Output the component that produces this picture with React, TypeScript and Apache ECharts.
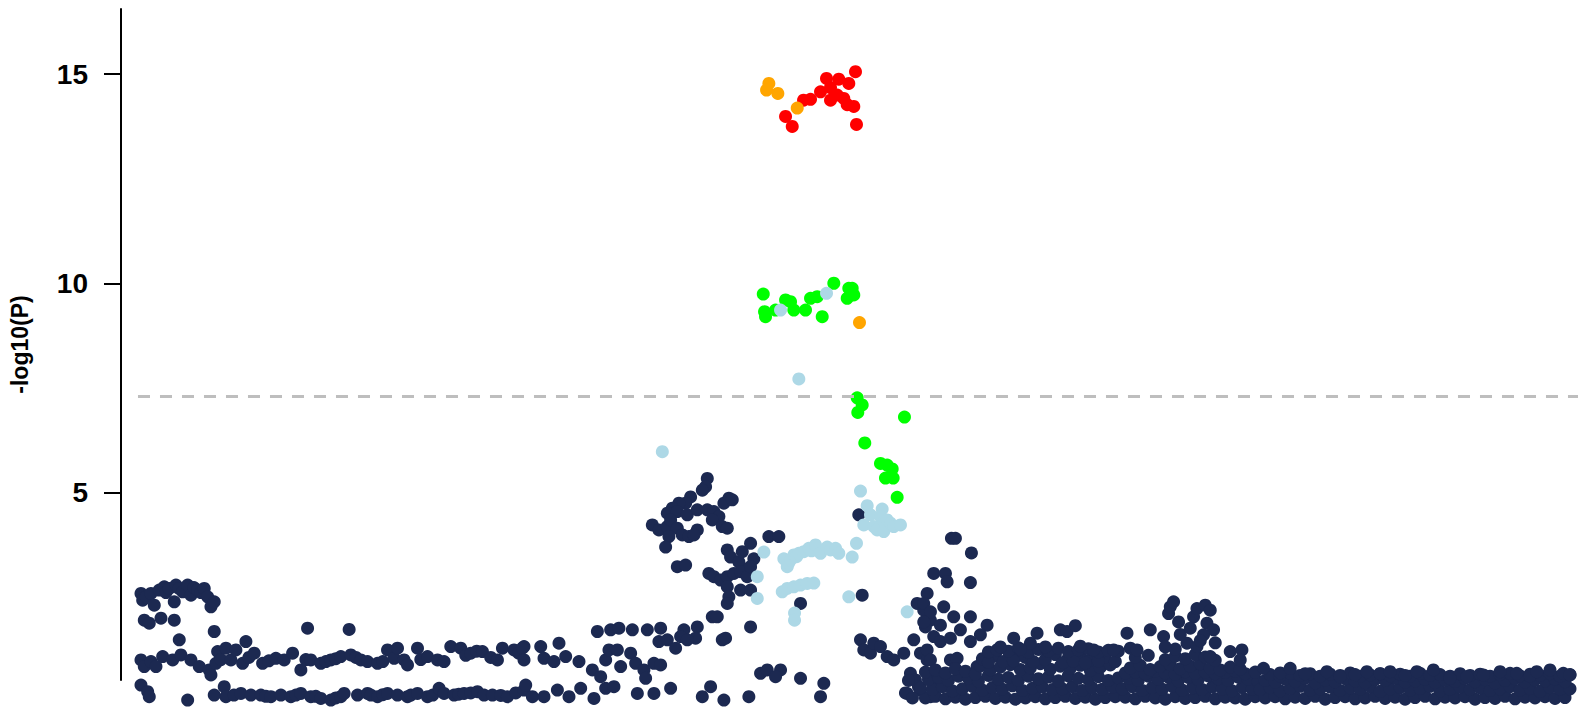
import React, { useEffect, useRef } from "react";
import * as echarts from "echarts";

// Genomic position (kb from region start) and -log10(P)
const yTicks = [5, 10, 15];
const threshold = 7.3;

const navyLeftCluster: number[][] = [
  [20, 2.58], [21.7, 2.42], [25, 2.5], [30, 2.58], [33.3, 2.3], [38.3, 2.66], [43.3, 2.74], [45, 2.6],
  [48.3, 2.7], [53.3, 2.38], [55, 2.78], [58, 2.7], [61.7, 2.62], [66.7, 2.78], [70, 2.54], [73, 2.72],
  [76.7, 2.66], [80, 2.6], [83.3, 2.7], [86.7, 2.5], [90, 2.26], [93.3, 2.38],
  [23.3, 1.94], [28.3, 1.87], [40, 1.99], [53.3, 1.94], [58.3, 1.47], [93.3, 1.67], [186.7, 1.75], [228.3, 1.72],
];

const navyLeftMid: number[][] = [
  [20, 0.99], [23.3, 0.83], [30, 0.95], [35, 0.83], [41.7, 1.07], [51.7, 0.99], [60, 1.11], [70, 0.99],
  [78.3, 0.83], [88.3, 0.75], [90, 0.63], [95, 0.91], [96.7, 1.19], [100, 1.0], [105, 1.27], [110, 0.99],
  [115, 1.23], [121.7, 0.91], [125, 1.43], [128, 1.05], [133.3, 1.15], [141.7, 0.91], [148, 0.97], [155, 1.03],
  [163.3, 0.99], [171.7, 1.15], [180, 0.75], [185, 1.0], [190, 0.99], [200, 0.91], [205, 0.95], [210, 0.99],
  [215, 1.02], [220, 1.07], [230, 1.11], [235, 1.05], [240, 0.99], [246.7, 0.95], [256.7, 0.91], [262, 0.95],
  [266.7, 1.23], [273.3, 1.03], [276.7, 1.27], [283.3, 0.99], [286.7, 0.87], [296.7, 1.27], [300, 1.0],
  [306.7, 1.07], [316.7, 0.99], [323.3, 0.95], [330, 1.31], [340, 1.27], [345, 1.1], [350, 1.15], [356, 1.2],
  [361.7, 1.19], [370, 1.05], [376.7, 0.99], [381.7, 1.27], [393.3, 1.23], [398, 1.15], [403.3, 1.31],
];

const navyLeftBottom: number[][] = [
  [20, 0.39], [26.7, 0.23], [28.3, 0.11], [66.7, 0.03], [93.3, 0.15], [103.3, 0.35], [105, 0.11], [113, 0.15],
  [120, 0.19], [130, 0.15], [140, 0.15], [145, 0.12], [150, 0.11], [160, 0.15], [170, 0.11], [175, 0.15],
  [180, 0.19], [190, 0.11], [195, 0.12], [200, 0.07], [210, 0.03], [215, 0.08], [220, 0.11], [223.3, 0.19],
  [236.7, 0.15], [246.7, 0.19], [250, 0.15], [256.7, 0.11], [262, 0.16], [266.7, 0.19], [276.7, 0.15],
  [286.7, 0.11], [290, 0.15], [296.7, 0.19], [306.7, 0.11], [312, 0.15], [318.3, 0.31], [323.3, 0.19],
  [333.3, 0.15], [338, 0.17], [343.3, 0.19], [350, 0.2], [356.7, 0.23], [363.3, 0.15], [371.7, 0.15],
  [380, 0.14], [386.7, 0.11], [395, 0.2], [403.3, 0.27],
];

const navyCenter: number[][] = [
  [586.7, 5.33], [585, 5.13], [581.7, 5.05], [608.3, 4.86], [603.3, 4.74], [611.7, 4.82], [570, 4.89],
  [565, 4.74], [558.3, 4.74], [551.7, 4.62], [546.7, 4.5], [556.7, 4.54], [566.7, 4.46], [576.7, 4.58],
  [586.7, 4.58], [593.3, 4.54], [598.3, 4.42], [591.7, 4.34], [601.7, 4.18], [606.7, 4.14], [531.7, 4.22],
  [538.3, 4.1], [546.7, 4.18], [550, 4.34], [556.7, 4.14], [561.7, 3.98], [568.3, 3.94], [576.7, 4.1],
  [573.3, 3.98], [548.3, 3.94], [545, 3.69], [556.7, 3.22], [565, 3.26],
  [606.7, 3.62], [610, 3.45], [618.3, 3.33], [621.7, 3.58], [630, 3.78], [633.3, 3.41], [628.3, 3.18],
  [588.3, 3.06], [593.3, 2.98], [600, 2.9], [606.7, 2.98], [613.3, 3.06], [620, 3.1], [626.7, 2.98],
  [630, 3.22], [606.7, 2.74], [608.3, 2.5], [606.7, 2.34], [620, 2.66], [630, 2.66], [648.3, 3.94],
  [658.3, 3.94], [680, 2.34], [738.3, 4.46], [741.7, 2.54],
  [591.7, 2.02], [596.7, 2.02], [630, 1.78], [601.7, 1.47], [605, 1.51],
  [476.7, 1.67], [490, 1.71], [498.3, 1.75], [511.7, 1.71], [526.7, 1.71], [540, 1.75], [563.3, 1.71],
  [576.7, 1.78], [575, 1.51], [538.3, 1.43], [546.7, 1.47], [555, 1.27], [560, 1.55], [566.7, 1.47],
  [401.7, 1.27], [403.3, 0.99], [420, 1.31], [423.3, 1.03], [433.3, 0.95], [438.3, 1.39], [445, 1.07],
  [458.3, 0.95], [471.7, 0.75], [480, 0.59], [485, 0.99], [488.3, 1.23], [496.7, 1.23], [500, 0.83],
  [510, 1.15], [515, 0.91], [523.3, 0.75], [525, 0.55], [533.3, 0.91], [540, 0.87], [485, 0.31],
  [493.3, 0.35], [473.3, 0.07], [405, 0.39], [411.7, 0.11], [423.3, 0.11], [436.7, 0.27], [448.3, 0.11],
  [460, 0.31], [516.7, 0.19], [533.3, 0.19], [550, 0.31], [581.7, 0.11], [590, 0.35], [603.3, 0.03],
  [628.3, 0.11], [640, 0.67], [646.7, 0.75], [660, 0.75], [655, 0.59], [680, 0.55], [703.3, 0.43], [700, 0.11],
];

const navyRightCluster: number[][] = [
  [813.3, 3.06], [806.7, 2.58], [796.7, 2.34], [803.3, 2.18], [810, 1.94], [805, 1.78], [813.3, 1.55],
  [740, 1.47], [743.3, 1.23], [750, 1.15], [753.3, 1.39], [760, 1.31], [766.7, 1.07], [773.3, 0.99],
  [783.3, 1.15], [793.3, 1.47], [800, 1.15], [806.7, 0.99], [790, 0.67], [795, 0.51], [786.7, 0.19],
  [800, 0.27], [810, 0.11], [816.7, 0.35], [785, 0.2], [792, 0.08], [798, 0.35], [788, 0.5],
  [831, 3.9], [835, 3.9], [851, 3.55], [825, 3.06], [826.7, 2.86], [850, 2.84], [803.3, 2.34],
  [823.3, 2.26], [810, 2.14], [833.3, 2.02], [850, 2.02], [866.7, 1.82], [820, 1.82], [803.3, 1.9],
  [840, 1.71], [806.7, 1.23], [810, 0.99], [830, 0.99], [836.7, 1.03], [820, 1.43], [850, 1.43],
  [860, 1.59], [830, 1.51], [846.7, 0.67], [856.7, 0.83],
];

const navyBlobA: number[][] = [
  [805, 0.08], [815, 0.12], [825, 0.06], [835, 0.1], [845, 0.05], [855, 0.09], [865, 0.12], [875, 0.07],
  [885, 0.1], [895, 0.05], [905, 0.08], [915, 0.11], [925, 0.06], [935, 0.09], [945, 0.12], [955, 0.07],
  [965, 0.1], [975, 0.05], [985, 0.09], [995, 0.11],
  [800, 0.32], [812, 0.28], [822, 0.35], [832, 0.25], [842, 0.3], [852, 0.36], [862, 0.27], [872, 0.33],
  [882, 0.29], [892, 0.37], [902, 0.26], [912, 0.31], [922, 0.34], [932, 0.28], [942, 0.3], [952, 0.35],
  [962, 0.26], [972, 0.32], [982, 0.29], [992, 0.34],
  [808, 0.52], [818, 0.58], [828, 0.5], [838, 0.6], [848, 0.55], [858, 0.48], [868, 0.62], [878, 0.53],
  [888, 0.57], [898, 0.5], [908, 0.6], [918, 0.54], [928, 0.58], [938, 0.49], [948, 0.61], [958, 0.55],
  [968, 0.52], [978, 0.59], [988, 0.5], [998, 0.56],
  [805, 0.7], [815, 0.75], [825, 0.68], [835, 0.78], [845, 0.72], [855, 0.65],
  [860, 0.85], [870, 0.75], [880, 0.82], [890, 0.88], [900, 0.76], [910, 0.8], [920, 0.9], [930, 0.77],
  [940, 0.84], [950, 0.79], [960, 0.86], [970, 0.74], [980, 0.81], [990, 0.87],
  [862, 1.02], [875, 1.08], [887, 0.98], [898, 1.1], [905, 1.05], [925, 1.0], [935, 1.12], [948, 1.04],
  [960, 1.07], [970, 0.99], [985, 1.06],
  [868, 0.93], [883, 0.95], [893, 0.97], [913, 0.95], [943, 0.93], [953, 0.96], [965, 0.92], [978, 0.97], [995, 0.95],
  [868, 1.18], [878, 1.25], [888, 1.2], [898, 1.28], [908, 1.17], [918, 1.24], [928, 1.2], [938, 1.27],
  [948, 1.19], [958, 1.23], [968, 1.26], [978, 1.18], [988, 1.22], [998, 1.2],
  [876.7, 1.23], [893.3, 1.51], [910, 1.39], [916.7, 1.63], [940, 1.71], [946.7, 1.67], [955, 1.81],
  [973.3, 1.23], [993.3, 1.23], [880, 1.3], [900, 1.25], [925, 1.3], [960, 1.32],
];

const navyBlobB: number[][] = [
  [1005, 0.1], [1015, 0.06], [1025, 0.12], [1035, 0.08], [1045, 0.05], [1055, 0.11], [1065, 0.07],
  [1075, 0.09], [1085, 0.12], [1095, 0.06], [1105, 0.1], [1115, 0.08], [1125, 0.05], [1135, 0.11],
  [1002, 0.3], [1012, 0.35], [1022, 0.26], [1032, 0.33], [1042, 0.29], [1052, 0.36], [1062, 0.27],
  [1072, 0.32], [1082, 0.28], [1092, 0.34], [1102, 0.3], [1112, 0.25], [1122, 0.33], [1132, 0.29],
  [1008, 0.55], [1018, 0.5], [1028, 0.6], [1038, 0.53], [1048, 0.58], [1058, 0.49], [1068, 0.57],
  [1078, 0.52], [1088, 0.61], [1098, 0.54], [1108, 0.5], [1118, 0.58], [1128, 0.53], [1138, 0.47],
  [1005, 0.68], [1015, 0.7], [1025, 0.66], [1035, 0.72], [1045, 0.68], [1055, 0.65], [1065, 0.71],
  [1075, 0.67], [1085, 0.7], [1095, 0.66], [1105, 0.69], [1115, 0.72], [1125, 0.66], [1135, 0.7],
  [1010, 0.8], [1020, 0.86], [1030, 0.76], [1040, 0.83], [1050, 0.88], [1060, 0.78], [1070, 0.84],
  [1080, 0.9], [1090, 0.79], [1100, 0.75], [1110, 0.82], [1120, 0.77],
  [1015, 1.05], [1028, 1.1], [1045, 1.0], [1055, 1.08], [1065, 1.02], [1075, 1.12], [1085, 1.06], [1095, 0.98],
  [1006.7, 1.63], [1010, 1.27], [1016.7, 1.23], [1030, 1.71], [1043.3, 1.55], [1048.3, 2.1], [1050, 2.26],
  [1053.3, 2.38], [1058.3, 1.9], [1066.7, 1.39], [1073.3, 2.02], [1076.7, 2.22], [1085, 2.3], [1090, 2.18],
  [1086.7, 1.87], [1093.3, 1.71], [1083.3, 1.59], [1076.7, 1.31], [1090, 1.07], [1110, 1.19], [1121.7, 1.23],
  [1120, 0.99], [1060, 1.6], [1070, 1.75], [1080, 1.45], [1055, 1.25], [1095, 1.4], [1045, 1.3],
];

const navyBlobC: number[][] = [
  [1145, 0.08], [1155, 0.11], [1165, 0.06], [1175, 0.1], [1185, 0.07], [1195, 0.12], [1205, 0.05], [1215, 0.09],
  [1225, 0.11], [1235, 0.06], [1245, 0.08], [1255, 0.12], [1265, 0.07], [1275, 0.1], [1285, 0.05], [1295, 0.09],
  [1305, 0.12], [1315, 0.06], [1325, 0.1], [1335, 0.08], [1345, 0.11], [1355, 0.05], [1365, 0.09], [1375, 0.07],
  [1385, 0.12], [1395, 0.06], [1405, 0.1], [1415, 0.08], [1425, 0.11], [1435, 0.07], [1445, 0.09],
  [1140, 0.28], [1150, 0.33], [1160, 0.25], [1170, 0.31], [1180, 0.36], [1190, 0.27], [1200, 0.3], [1210, 0.34],
  [1220, 0.26], [1230, 0.32], [1240, 0.29], [1250, 0.35], [1260, 0.24], [1270, 0.3], [1280, 0.33], [1290, 0.27],
  [1300, 0.31], [1310, 0.36], [1320, 0.25], [1330, 0.29], [1340, 0.34], [1350, 0.28], [1360, 0.32], [1370, 0.26],
  [1380, 0.3], [1390, 0.35], [1400, 0.27], [1410, 0.31], [1420, 0.24], [1430, 0.33], [1440, 0.29], [1450, 0.3],
  [1145, 0.5], [1155, 0.46], [1165, 0.53], [1175, 0.48], [1185, 0.55], [1195, 0.44], [1205, 0.51], [1215, 0.47],
  [1225, 0.54], [1235, 0.49], [1245, 0.45], [1255, 0.52], [1265, 0.5], [1275, 0.56], [1285, 0.46], [1295, 0.49],
  [1305, 0.53], [1315, 0.45], [1325, 0.51], [1335, 0.48], [1345, 0.55], [1355, 0.47], [1365, 0.52], [1375, 0.44],
  [1385, 0.5], [1395, 0.54], [1405, 0.46], [1415, 0.51], [1425, 0.49], [1435, 0.53], [1445, 0.47],
  [1150, 0.64], [1160, 0.6], [1170, 0.67], [1180, 0.62], [1190, 0.66], [1200, 0.6], [1210, 0.65], [1220, 0.62],
  [1230, 0.68], [1240, 0.6], [1250, 0.63], [1260, 0.66], [1270, 0.61], [1280, 0.65], [1290, 0.6], [1300, 0.67],
  [1310, 0.62], [1320, 0.64], [1330, 0.6], [1340, 0.66], [1350, 0.62], [1360, 0.65], [1370, 0.6], [1380, 0.64],
  [1390, 0.67], [1400, 0.61], [1410, 0.65], [1420, 0.62], [1430, 0.66], [1440, 0.6], [1450, 0.64],
  [1143.3, 0.79], [1160, 0.68], [1170, 0.79], [1185, 0.66], [1206.7, 0.71], [1220, 0.59], [1235, 0.64],
  [1246.7, 0.71], [1260, 0.66], [1270, 0.71], [1285, 0.62], [1296.7, 0.71], [1313.3, 0.75], [1330, 0.55],
  [1346.7, 0.59], [1363.3, 0.63], [1380, 0.71], [1396.7, 0.67], [1410, 0.6], [1416.7, 0.71], [1430, 0.75],
  [1443.3, 0.67], [1450, 0.63],
];

const lightBluePts: number[][] = [
  [541.7, 5.97], [740, 5.03], [746.7, 4.68], [761.7, 4.6], [743.3, 4.22], [750, 4.46], [753.3, 4.18],
  [756.7, 4.1], [760, 4.42], [763.3, 4.3], [763.3, 4.06], [766.7, 4.34], [770, 4.26], [773.3, 4.18],
  [780, 4.22], [736, 3.78], [731.7, 3.45], [728.3, 2.5], [786.7, 2.14], [643.3, 3.57], [636.7, 2.98],
  [636.7, 2.46], [663.3, 3.41], [666.7, 3.22], [668, 3.3], [670, 3.38], [673.3, 3.5], [676, 3.46],
  [678.3, 3.54], [683.3, 3.58], [688.3, 3.66], [691, 3.6], [695, 3.74], [700, 3.54], [706.7, 3.69],
  [710, 3.62], [715, 3.66], [718.3, 3.54], [661.7, 2.62], [666.7, 2.7], [673.3, 2.74], [680, 2.78],
  [686.7, 2.82], [693.3, 2.83], [674, 2.11], [674, 1.94],
];

const lightBlueUpper: number[][] = [[678.3, 7.71], [660, 9.36], [706, 9.76]];

const greenPts: number[][] = [
  [642.7, 9.74], [644, 9.32], [645, 9.2], [655, 9.36], [665, 9.6], [670, 9.56], [673.3, 9.36], [685, 9.36],
  [690, 9.64], [696.7, 9.68], [701.7, 9.2], [713.3, 10.0], [728.3, 9.88], [731.7, 9.88], [726.7, 9.64],
  [733.3, 9.72], [736.7, 7.26], [741.7, 7.09], [737.3, 6.91], [784, 6.8], [744.3, 6.18], [760, 5.69],
  [766.7, 5.65], [771.7, 5.56], [765, 5.34], [772.7, 5.34], [776.7, 4.88],
];

const orangePts: number[][] = [
  [648.3, 14.78], [646, 14.62], [657.3, 14.54], [676.7, 14.19], [739, 9.06],
];

const redPts: number[][] = [
  [665, 13.99], [671.7, 13.75], [683, 14.38], [690, 14.4], [700, 14.58], [706, 14.9], [710, 14.68],
  [710, 14.38], [716.7, 14.5], [718.3, 14.88], [723.3, 14.42], [728.3, 14.78], [726.7, 14.27],
  [733.3, 14.23], [735, 15.06], [736, 13.8],
];

const thresholdStart = 17;
const thresholdEnd = 1458;

const NAVY = "#1c2951";
const LIGHTBLUE = "#add8e6";
const GREEN = "#00ff00";
const ORANGE = "#ffa500";
const RED = "#ff0000";
const FONT = "'Liberation Sans', Arial, Helvetica, sans-serif";
const DOT = 13;

export default function App() {
  const ref = useRef<HTMLDivElement>(null);

  useEffect(() => {
    if (!ref.current) return;
    const chart = echarts.init(ref.current, undefined, { renderer: "svg" });
    const navyAll = [
      ...navyLeftCluster, ...navyLeftMid, ...navyLeftBottom, ...navyCenter,
      ...navyRightCluster, ...navyBlobA, ...navyBlobB, ...navyBlobC,
    ];
    const scatter = (name: string, data: number[][], color: string, z: number) => ({
      name,
      type: "scatter",
      data,
      symbol: "circle",
      symbolSize: DOT,
      clip: false,
      z,
      itemStyle: { color, opacity: 1 },
      emphasis: { disabled: true },
    });
    chart.setOption({
      animation: false,
      grid: { left: 120, right: 0, top: 9, bottom: 31 },
      xAxis: { type: "value", min: 0, max: 1458, show: false },
      yAxis: {
        type: "value",
        min: 0.51,
        max: 16.56,
        axisLine: { show: true, lineStyle: { color: "#000", width: 2 } },
        axisTick: { show: true, length: 17, customValues: yTicks, lineStyle: { color: "#000", width: 2 } },
        axisLabel: {
          customValues: yTicks,
          fontSize: 28,
          fontWeight: "bold",
          color: "#000",
          margin: 33,
          fontFamily: FONT,
        },
        splitLine: { show: false },
        name: "-log10(P)",
        nameLocation: "middle",
        nameGap: 90,
        nameTextStyle: { fontSize: 23, fontWeight: "bold", color: "#000", fontFamily: FONT },
      },
      series: [
        {
          type: "scatter",
          data: [],
          z: 1,
          markLine: {
            silent: true,
            symbol: "none",
            label: { show: false },
            lineStyle: { type: [12, 10], color: "#bebebe", width: 3 },
            data: [[{ coord: [thresholdStart, threshold] }, { coord: [thresholdEnd, threshold] }]],
          },
        },
        scatter("other", navyAll, NAVY, 2),
        scatter("ld-low", lightBluePts, LIGHTBLUE, 3),
        scatter("ld-mid", greenPts, GREEN, 3),
        scatter("ld-top", redPts, RED, 4),
        scatter("ld-high", orangePts, ORANGE, 5),
        scatter("ld-low-upper", lightBlueUpper, LIGHTBLUE, 6),
      ],
    });
    return () => chart.dispose();
  }, []);

  return (
    <div
      ref={ref}
      style={{ position: "fixed", left: 0, top: 0, width: 1578, height: 711, background: "#fff" }}
    />
  );
}
